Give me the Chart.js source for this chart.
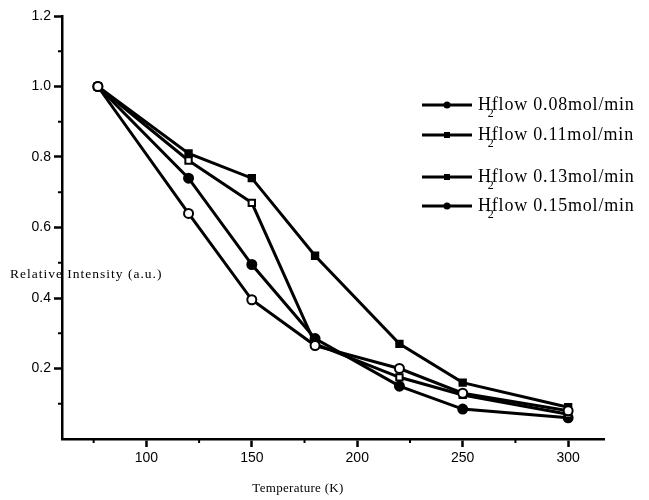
<!DOCTYPE html>
<html>
<head>
<meta charset="utf-8">
<script src="https://cdn.jsdelivr.net/npm/chart.js@4.4.1/dist/chart.umd.min.js"></script>
<style>
  html, body { margin: 0; padding: 0; background: #fff; }
  canvas { display: block; }
</style>
</head>
<body>
<canvas id="tempChart" width="649" height="500"></canvas>
<script>
// values (relative intensity vs temperature)
const temperatures = [77, 120, 150, 180, 220, 250, 300];
const flow008 = [1.0, 0.64, 0.395, 0.265, 0.20, 0.13, 0.08];
const flow011 = [1.0, 0.81, 0.74, 0.52, 0.27, 0.16, 0.09];
const flow013 = [1.0, 0.79, 0.67, 0.27, 0.175, 0.125, 0.07];
const flow015 = [1.0, 0.74, 0.495, 0.285, 0.15, 0.085, 0.06];

const flowLabels = ['0.08mol/min', '0.11mol/min', '0.13mol/min', '0.15mol/min'];
const xTickValues = [100, 150, 200, 250, 300];
const xMinorValues = [75, 125, 175, 225, 275];
const yTickValues = [0.2, 0.4, 0.6, 0.8, 1.0, 1.2];
const yMinorValues = [0.1, 0.3, 0.5, 0.7, 0.9, 1.1];

const toPoints = vals => temperatures.map((t, i) => ({ x: t, y: vals[i] }));

const serif = '"Liberation Serif", "Times New Roman", serif';
const sans = '"Liberation Sans", Arial, sans-serif';

function makeSet(label, vals, style, filled) {
    return {
        label: label,
        data: toPoints(vals),
        borderColor: '#000',
        borderWidth: 3,
        tension: 0,
        pointStyle: style,
        pointRadius: 4.5,
        pointBorderWidth: 2,
        pointBorderColor: '#000',
        pointBackgroundColor: filled ? '#000' : '#fff'
    };
}

// minor ticks, axis titles and the legend drawn by hand
const decorPlugin = {
    id: 'decor',
    afterDraw(chart) {
        const { ctx } = chart;
        const x = chart.scales.x, y = chart.scales.y;
        ctx.save();
        ctx.strokeStyle = '#000';
        ctx.fillStyle = '#000';
        ctx.lineWidth = 2;
        xMinorValues.forEach(v => {
            const px = x.getPixelForValue(v);
            ctx.beginPath(); ctx.moveTo(px, y.bottom); ctx.lineTo(px, y.bottom + 4); ctx.stroke();
        });
        yMinorValues.forEach(v => {
            const py = y.getPixelForValue(v);
            ctx.beginPath(); ctx.moveTo(x.left, py); ctx.lineTo(x.left - 4, py); ctx.stroke();
        });

        // axis titles
        ctx.textBaseline = 'middle';
        ctx.textAlign = 'left';
        ctx.font = '13.5px ' + serif;
        ctx.letterSpacing = '1px';
        ctx.fillText('Relative Intensity (a.u.)', 10, 274);
        ctx.letterSpacing = '0.3px';
        ctx.font = '13px ' + serif;
        ctx.textAlign = 'center';
        ctx.fillText('Temperature (K)', 298, 489);

        // legend
        const rows = [105, 135, 177, 206];
        ctx.textAlign = 'left';
        ctx.textBaseline = 'alphabetic';
        rows.forEach((ly, i) => {
            const ds = chart.data.datasets[i];
            ctx.lineWidth = 3;
            ctx.beginPath(); ctx.moveTo(422, ly); ctx.lineTo(472, ly); ctx.stroke();
            ctx.beginPath();
            if (ds.pointStyle === 'rect') ctx.rect(444, ly - 3, 6, 6);
            else ctx.arc(447, ly, 3.5, 0, Math.PI * 2);
            ctx.fill();
            ctx.letterSpacing = '0.8px';
            ctx.font = '18px ' + serif;
            ctx.fillText('H', 478, ly + 5);
            const hw = ctx.measureText('H').width;
            ctx.fillText('flow ' + flowLabels[i], 478 + hw, ly + 5);
            ctx.letterSpacing = '0px';
            ctx.font = '12px ' + serif;
            ctx.fillText('2', 478 + hw - 4, ly + 12);
        });
        ctx.restore();
    }
};

const canvas = document.getElementById('tempChart');
const chart = new Chart(canvas.getContext('2d'), {
    type: 'line',
    data: {
        datasets: [
            makeSet('0.08', flow008, 'circle', false),
            makeSet('0.11', flow011, 'rect', true),
            makeSet('0.13', flow013, 'rect', false),
            makeSet('0.15', flow015, 'circle', true)
        ]
    },
    options: {
        responsive: false,
        animation: false,
        layout: { padding: { left: 0, right: 45, top: 16, bottom: 0 } },
        plugins: { legend: { display: false }, tooltip: { enabled: false } },
        scales: {
            x: {
                type: 'linear',
                min: 60,
                max: 317,
                afterBuildTicks: s => { s.ticks = xTickValues.map(v => ({ value: v })); },
                afterFit: s => { s.height = 61; },
                grid: { drawOnChartArea: false, drawTicks: true, tickLength: 8, tickWidth: 2.5, tickColor: '#000' },
                border: { display: true, width: 2.5, color: '#000' },
                ticks: { autoSkip: false, maxRotation: 0, padding: 3, color: '#000', font: { family: sans, size: 14 } }
            },
            y: {
                min: 0,
                max: 1.2,
                afterBuildTicks: s => { s.ticks = yTickValues.map(v => ({ value: v })); },
                afterFit: s => { s.width = 62; },
                grid: { drawOnChartArea: false, drawTicks: true, tickLength: 8, tickWidth: 2.5, tickColor: '#000' },
                border: { display: true, width: 2.5, color: '#000' },
                ticks: { autoSkip: false, padding: 3, color: '#000', font: { family: sans, size: 14 },
                         callback: v => Number(v).toFixed(1) }
            }
        }
    },
    plugins: [decorPlugin]
});
</script>
</body>
</html>
